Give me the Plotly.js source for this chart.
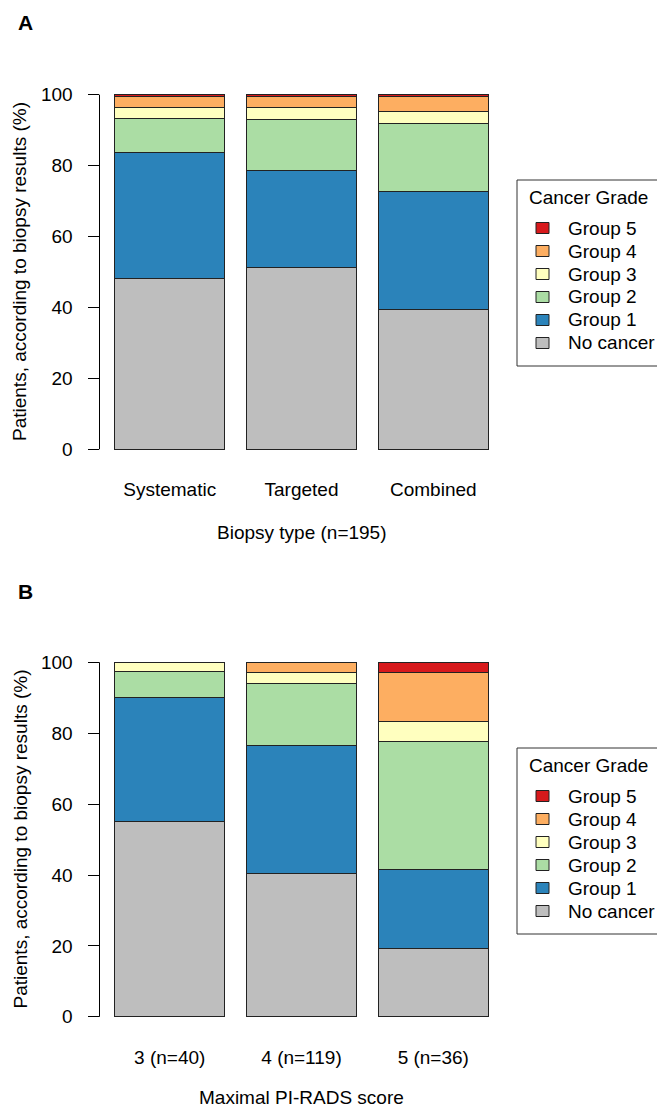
<!DOCTYPE html>
<html>
<head>
<meta charset="utf-8">
<script src="https://cdn.plot.ly/plotly-3.0.1.min.js"></script>
<style>html,body{margin:0;padding:0;background:#fff;}#chart{width:657px;height:1110px;}</style>
</head>
<body>
<div id="chart"></div>
<script>
// ---- Data ----
const groupNames = ["No cancer", "Group 1", "Group 2", "Group 3", "Group 4", "Group 5"];
const groupColors = ["#BEBEBE", "#2B83BA", "#ABDDA4", "#FFFFBF", "#FDAE61", "#D7191C"];

// Panel A: biopsy type (percent of patients)
const catsA = ["Systematic", "Targeted", "Combined"];
const noCancerA = [48.2, 51.3, 39.5];
const group1A   = [35.4, 27.2, 33.3];
const group2A   = [ 9.7, 14.4, 19.0];
const group3A   = [ 3.1,  3.6,  3.6];
const group4A   = [ 3.1,  3.0,  4.1];
const group5A   = [ 0.5,  0.5,  0.5];

// Panel B: maximal PI-RADS score (percent of patients)
const catsB = ["3 (n=40)", "4 (n=119)", "5 (n=36)"];
const noCancerB = [55.0, 40.3, 19.4];
const group1B   = [35.0, 36.1, 22.2];
const group2B   = [ 7.5, 17.6, 36.1];
const group3B   = [ 2.5,  3.1,  5.6];
const group4B   = [ 0.0,  2.9, 13.9];
const group5B   = [ 0.0,  0.0,  2.8];

const titleA = "Biopsy type (n=195)";
const titleB = "Maximal PI-RADS score";
const yTitle = "Patients, according to biopsy results (%)";
const legendTitle = "Cancer Grade";
const yTicks = [0, 20, 40, 60, 80, 100];

// ---- Build ----
const FONT = "Liberation Sans, Arial, Helvetica, sans-serif";
const FS = 19;
const W = 657, H = 1110;
const px = v => v / W;
const py = v => 1 - v / H;

const seriesA = [noCancerA, group1A, group2A, group3A, group4A, group5A];
const seriesB = [noCancerB, group1B, group2B, group3B, group4B, group5B];

const traces = [];
seriesA.forEach((vals, i) => {
  traces.push({
    type: "bar", x: catsA, y: vals, name: groupNames[i],
    xaxis: "x", yaxis: "y", showlegend: false,
    marker: {color: groupColors[i], line: {color: "#222", width: 1}},
    hoverinfo: "skip"
  });
});
seriesB.forEach((vals, i) => {
  traces.push({
    type: "bar", x: catsB, y: vals, name: groupNames[i],
    xaxis: "x2", yaxis: "y2", showlegend: false,
    marker: {color: groupColors[i], line: {color: "#222", width: 1}},
    hoverinfo: "skip"
  });
});

const xDom = [px(99.5), px(503.5)];
const yDomA = [py(463.5), py(80.5)];
const yDomB = [py(1031), py(648.1)];

function xAxis(anchor, standoff) {
  return {
    domain: xDom, anchor: anchor, type: "category", range: [-0.533, 2.533],
    showline: false, showgrid: false, zeroline: false, ticks: "",
    ticklabelstandoff: standoff,
    tickfont: {family: FONT, size: FS, color: "#000"}, fixedrange: true
  };
}
function yAxis(anchor, dom) {
  return {
    domain: dom, anchor: anchor, range: [-4, 104],
    tickvals: yTicks, ticktext: yTicks.map(String),
    ticks: "outside", ticklen: 11, tickwidth: 1, tickcolor: "#000",
    ticklabelstandoff: 11,
    showline: false, showgrid: false, zeroline: false,
    tickfont: {family: FONT, size: FS, color: "#000"}, fixedrange: true
  };
}

const shapes = [
  {type: "line", xref: "paper", yref: "y", x0: xDom[0], x1: xDom[0], y0: 0, y1: 100, line: {color: "#000", width: 1}},
  {type: "line", xref: "paper", yref: "y2", x0: xDom[0], x1: xDom[0], y0: 0, y1: 100, line: {color: "#000", width: 1}}
];
const annotations = [
  {text: "<b>A</b>", xref: "paper", yref: "paper", x: px(25), y: py(22), xanchor: "center", yanchor: "middle", showarrow: false, font: {family: FONT, size: 21, color: "#000"}},
  {text: "<b>B</b>", xref: "paper", yref: "paper", x: px(25), y: py(591), xanchor: "center", yanchor: "middle", showarrow: false, font: {family: FONT, size: 21, color: "#000"}},
  {text: yTitle, xref: "paper", yref: "paper", x: px(20), y: py(272), xanchor: "center", yanchor: "middle", textangle: -90, showarrow: false, font: {family: FONT, size: FS, color: "#000"}},
  {text: yTitle, xref: "paper", yref: "paper", x: px(20), y: py(839.5), xanchor: "center", yanchor: "middle", textangle: -90, showarrow: false, font: {family: FONT, size: FS, color: "#000"}},
  {text: titleA, xref: "paper", yref: "paper", x: px(301.5), y: py(532), xanchor: "center", yanchor: "middle", showarrow: false, font: {family: FONT, size: FS, color: "#000"}},
  {text: titleB, xref: "paper", yref: "paper", x: px(301.5), y: py(1097), xanchor: "center", yanchor: "middle", showarrow: false, font: {family: FONT, size: FS, color: "#000"}}
];

// Legend boxes (drawn like R's legend) built from the group arrays
function addLegend(top) {
  shapes.push({type: "rect", xref: "paper", yref: "paper",
    x0: px(517), x1: px(662), y0: py(top + 186), y1: py(top),
    line: {color: "#333", width: 1}, fillcolor: "rgba(0,0,0,0)"});
  annotations.push({text: legendTitle, xref: "paper", yref: "paper",
    x: px(527), y: py(top + 18), xanchor: "left", yanchor: "middle",
    showarrow: false, font: {family: FONT, size: FS, color: "#000"}});
  for (let k = 0; k < groupNames.length; k++) {
    const i = groupNames.length - 1 - k; // Group 5 on top
    const cy = top + 48 + k * 23;
    shapes.push({type: "rect", xref: "paper", yref: "paper",
      x0: px(536), x1: px(549), y0: py(cy + 5.5), y1: py(cy - 5.5),
      fillcolor: groupColors[i], line: {color: "#222", width: 1}});
    annotations.push({text: groupNames[i], xref: "paper", yref: "paper",
      x: px(566), y: py(cy), xanchor: "left", yanchor: "middle",
      showarrow: false, font: {family: FONT, size: FS, color: "#000"}});
  }
}
addLegend(180);
addLegend(748);

const layout = {
  width: W, height: H,
  margin: {l: 0, r: 0, t: 0, b: 0},
  paper_bgcolor: "#fff", plot_bgcolor: "#fff",
  barmode: "stack", bargap: 0.165,
  font: {family: FONT, size: FS, color: "#000"},
  xaxis: xAxis("y", 12), yaxis: yAxis("x", yDomA),
  xaxis2: xAxis("y2", 13), yaxis2: yAxis("x2", yDomB),
  shapes: shapes,
  annotations: annotations,
  showlegend: false
};

Plotly.newPlot("chart", traces, layout, {staticPlot: true, displayModeBar: false});
</script>
</body>
</html>
